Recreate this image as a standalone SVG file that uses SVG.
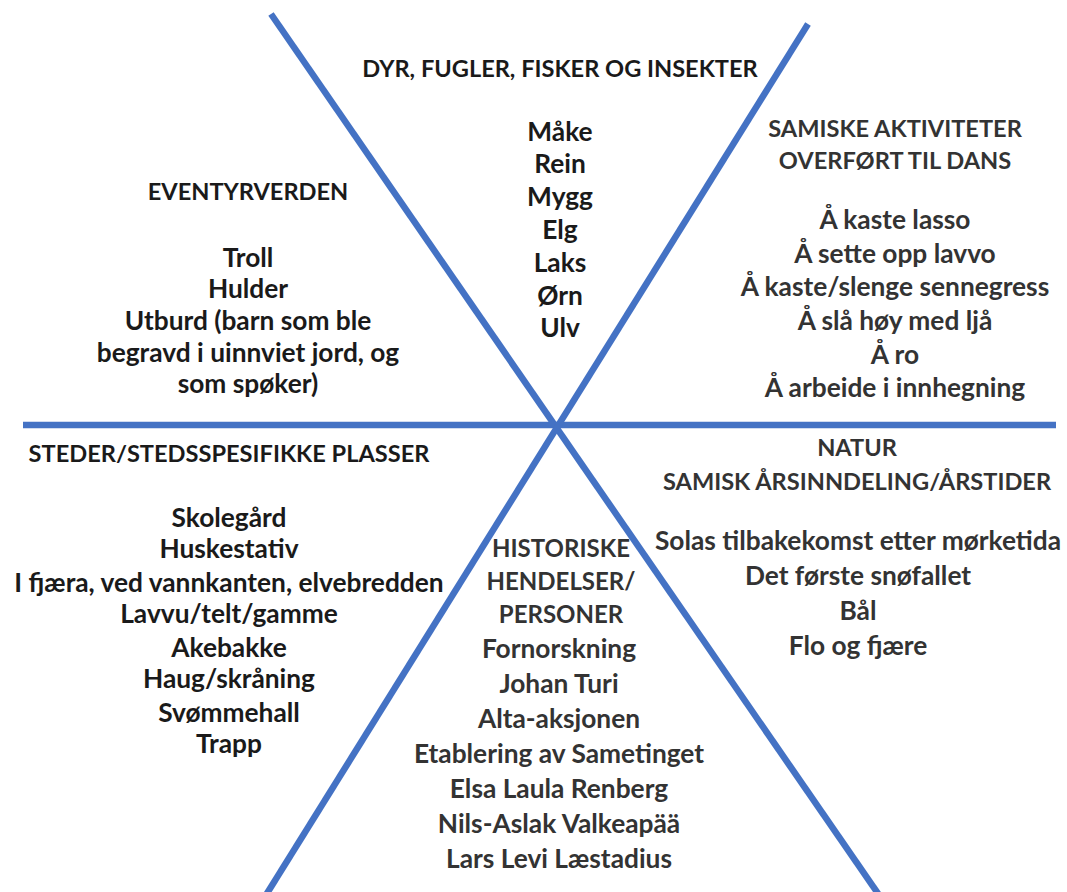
<svg xmlns="http://www.w3.org/2000/svg" width="1067" height="892" viewBox="0 0 1067 892">
<style>
text{font-family:Lato,"Liberation Sans",sans-serif;font-weight:bold;text-anchor:middle;fill:#1a1a1a}
.h{font-size:23.6px}
.i{font-size:26.3px}
.hh{font-size:24px}
.g text{fill:#333}
.ln{stroke:#4472C4;stroke-width:6.5;stroke-linecap:butt;fill:none}
</style>
<rect width="1067" height="892" fill="#fff"/>
<g id="connectors">
<line class="ln" x1="23" y1="425" x2="1056" y2="425"/>
<line class="ln" x1="271" y1="14" x2="879" y2="895"/>
<line class="ln" x1="808" y1="24" x2="266" y2="895"/>
</g>
<g id="dyr">
<text class="h" x="560" y="77">DYR, FUGLER, FISKER OG INSEKTER</text>
<text class="i" x="560" y="141">Måke</text>
<text class="i" x="560" y="173">Rein</text>
<text class="i" x="560" y="206">Mygg</text>
<text class="i" x="560" y="239">Elg</text>
<text class="i" x="560" y="272">Laks</text>
<text class="i" x="560" y="305">Ørn</text>
<text class="i" x="560" y="337">Ulv</text>
</g>
<g id="eventyr">
<text class="h" x="248" y="200">EVENTYRVERDEN</text>
<text class="i" x="248" y="267">Troll</text>
<text class="i" x="248" y="298">Hulder</text>
<text class="i" x="248" y="330">Utburd (barn som ble</text>
<text class="i" x="248" y="362">begravd i uinnviet jord, og</text>
<text class="i" x="248" y="393">som spøker)</text>
</g>
<g id="samiske" class="g">
<text class="h" x="895" y="137">SAMISKE AKTIVITETER</text>
<text class="h" x="895" y="169">OVERFØRT TIL DANS</text>
<text class="i" x="895" y="229">Å kaste lasso</text>
<text class="i" x="895" y="263">Å sette opp lavvo</text>
<text class="i" x="895" y="296">Å kaste/slenge sennegress</text>
<text class="i" x="895" y="330">Å slå høy med ljå</text>
<text class="i" x="895" y="364">Å ro</text>
<text class="i" x="895" y="397">Å arbeide i innhegning</text>
</g>
<g id="steder">
<text class="h" x="229" y="462">STEDER/STEDSSPESIFIKKE PLASSER</text>
<text class="i" x="229" y="527">Skolegård</text>
<text class="i" x="229" y="558">Huskestativ</text>
<text class="i" x="229" y="592">I fjæra, ved vannkanten, elvebredden</text>
<text class="i" x="229" y="623">Lavvu/telt/gamme</text>
<text class="i" x="229" y="657">Akebakke</text>
<text class="i" x="229" y="688">Haug/skråning</text>
<text class="i" x="229" y="722">Svømmehall</text>
<text class="i" x="229" y="753">Trapp</text>
</g>
<g id="natur" class="g">
<text class="h" x="857" y="456">NATUR</text>
<text class="h" x="857" y="490">SAMISK ÅRSINNDELING/ÅRSTIDER</text>
<text class="i" x="858" y="550">Solas tilbakekomst etter mørketida</text>
<text class="i" x="858" y="585">Det første snøfallet</text>
<text class="i" x="858" y="620">Bål</text>
<text class="i" x="858" y="655">Flo og fjære</text>
</g>
<g id="historiske" class="g">
<text class="hh" x="561" y="557">HISTORISKE</text>
<text class="hh" x="561" y="590">HENDELSER/</text>
<text class="hh" x="561" y="623">PERSONER</text>
<text class="i" x="559" y="658">Fornorskning</text>
<text class="i" x="559" y="693">Johan Turi</text>
<text class="i" x="559" y="728">Alta-aksjonen</text>
<text class="i" x="559" y="763">Etablering av Sametinget</text>
<text class="i" x="559" y="798">Elsa Laula Renberg</text>
<text class="i" x="559" y="833">Nils-Aslak Valkeapää</text>
<text class="i" x="559" y="868">Lars Levi Læstadius</text>
</g>
</svg>
